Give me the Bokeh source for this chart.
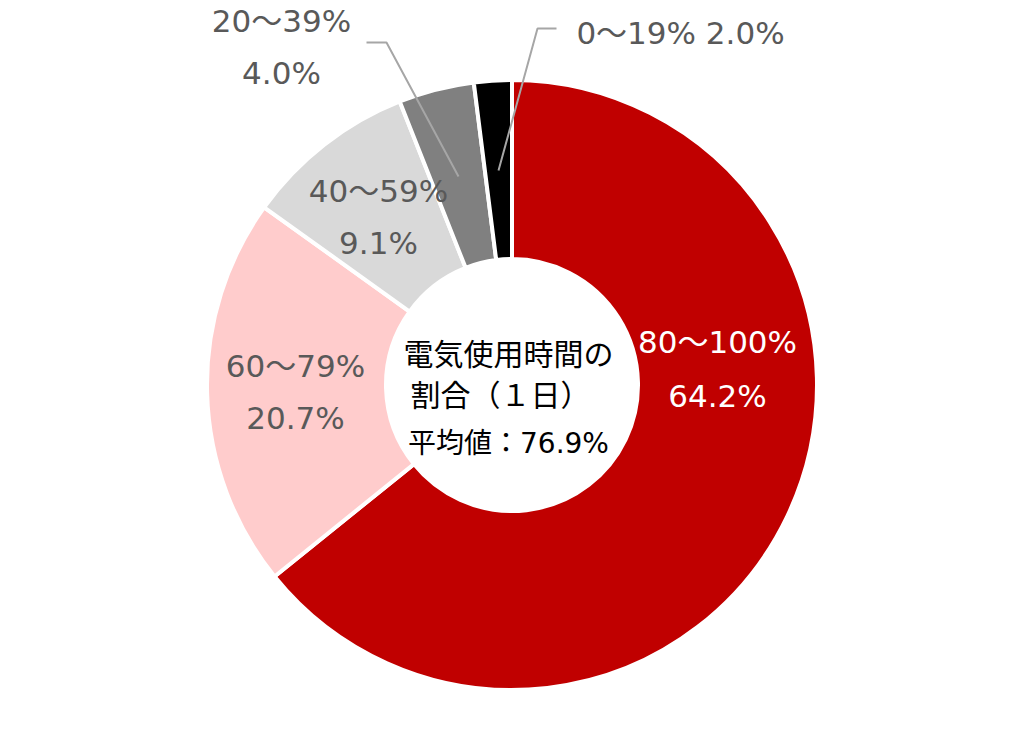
import math
from bokeh.plotting import figure
from bokeh.models import Range1d, ColumnDataSource
from bokeh.core.properties import value
from bokeh.embed import file_html
from bokeh.resources import INLINE

# ---- data ----
categories = ["80～100%", "60～79%", "40～59%", "20～39%", "0～19%"]
shares = [64.2, 20.7, 9.1, 4.0, 2.0]
colors = ["#C00000", "#FFCCCC", "#D9D9D9", "#808080", "#000000"]
center_lines = ["電気使用時間の", "割合（１日）", "平均値：76.9%"]

# ---- layout (image pixel coords) ----
W, H = 1008, 729
CX, CY = 511.5, 384.5
R_OUT, R_IN = 305, 126


def Y(img_y):
    return 745 - img_y


p = figure(width=W, height=H, output_backend="svg", toolbar_location=None,
           x_range=Range1d(0, W), y_range=Range1d(745 - H, 745),
           min_border=0)
p.axis.visible = False
p.grid.visible = False
p.outline_line_color = None
p.background_fill_color = "white"

total = sum(shares)
starts, ends = [], []
a = math.pi / 2
for s in shares:
    starts.append(a)
    a = a - 2 * math.pi * s / total
    ends.append(a)

src = ColumnDataSource(dict(start=starts, end=ends, color=colors))
p.annular_wedge(x=CX, y=Y(CY), inner_radius=R_IN, outer_radius=R_OUT,
                start_angle="start", end_angle="end", direction="clock",
                fill_color="color", line_color="white", line_width=4,
                source=src)

FONT = value("DejaVu Sans, Noto Sans CJK JP")
LBL = "#595959"


def fmt(v):
    return f"{v:.1f}%"


# label positions (image px): two-line labels
pos2 = {
    0: (717, 341, 717, 395, "white"),
    1: (295, 365, 295, 417, LBL),
    2: (378, 190, 378, 242, LBL),
    3: (281, 20, 281, 72, LBL),
}
for i, (x1, y1, x2, y2, c) in pos2.items():
    p.text(x=[x1, x2], y=[Y(y1), Y(y2)], text=[categories[i], fmt(shares[i])],
           text_font=FONT, text_font_size="31px", text_color=c,
           text_align="center", text_baseline="middle")

# single-line label for smallest slice
p.text(x=[680], y=[Y(32)], text=[categories[4] + " " + fmt(shares[4])],
       text_font=FONT, text_font_size="31px", text_color=LBL,
       text_align="center", text_baseline="middle")

# leader lines
LC = "#A6A6A6"
p.line(x=[366, 386, 458], y=[Y(42), Y(42), Y(176)], line_color=LC, line_width=2)
p.line(x=[556, 537, 498], y=[Y(28), Y(28), Y(170)], line_color=LC, line_width=2)

# centre text
CF = value("Noto Sans CJK JP")
p.text(x=[508], y=[Y(351)], text=[center_lines[0]], text_font=CF,
       text_font_size="30px", text_color="black",
       text_align="center", text_baseline="middle")
p.text(x=[500], y=[Y(392)], text=[center_lines[1]], text_font=CF,
       text_font_size="30px", text_color="black",
       text_align="center", text_baseline="middle")
p.text(x=[508], y=[Y(443)], text=[center_lines[2]], text_font=FONT,
       text_font_size="28px", text_color="black",
       text_align="center", text_baseline="middle")

open("out.html", "w").write(file_html(p, INLINE))
